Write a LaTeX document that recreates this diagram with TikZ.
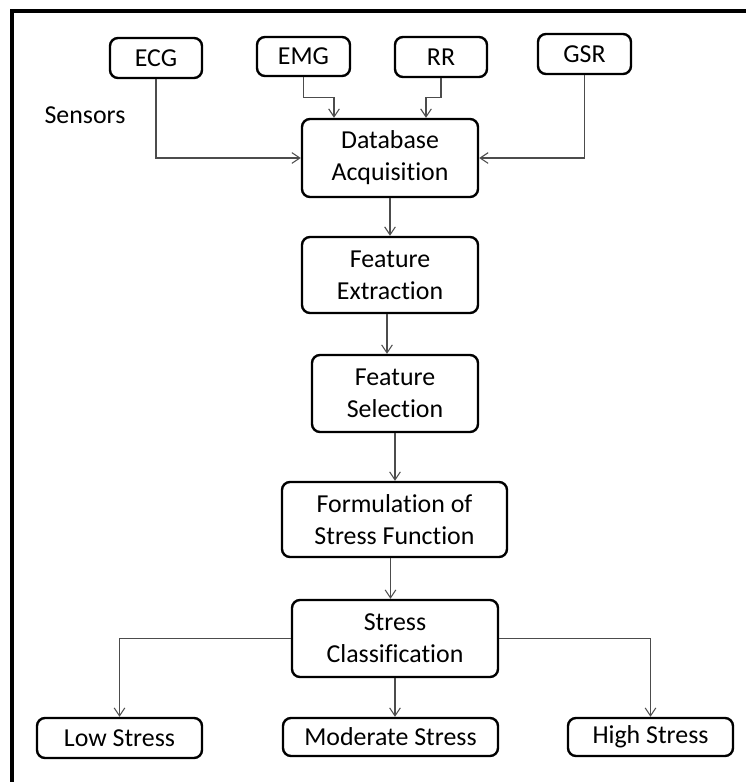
\documentclass[tikz,border=0pt]{standalone}
\usepackage{fontspec}
\setmainfont[Ligatures={NoCommon}]{Carlito}
\usetikzlibrary{arrows.meta,calc}
\tikzset{
  box/.style={draw=black, line width=1.8pt, rounded corners=6pt, align=center, inner sep=0pt,
    font=\fontsize{19.4pt}{24pt}\selectfont},
  arr/.style={draw=black!70, line width=0.8pt, -{Straight Barb[length=6pt,width=8pt]}},
  lbl/.style={font=\fontsize{19.4pt}{24pt}\selectfont, inner sep=0pt},
  frameline/.style={line width=2.3pt}
}
\begin{document}
\begin{tikzpicture}[x=0.75pt,y=-0.75pt]
\fill[white] (0,0) rectangle (746,782);
\useasboundingbox (0,0) rectangle (746,782);
\begin{scope}
\clip (0,0) rectangle (746,782);
\draw[frameline] (12,800) -- (12,11) -- (746,11);
\end{scope}
% sensors
\node[box, minimum width=69pt, minimum height=30pt] (ecg) at (156,58) {ECG};
\node[box, minimum width=69.75pt, minimum height=29.25pt] (emg) at (303.5,56.5) {EMG};
\node[box, minimum width=69pt, minimum height=30pt] (rr) at (441,57) {RR};
\node[box, minimum width=69.75pt, minimum height=30pt] (gsr) at (584.5,54) {GSR};
\node[lbl] (sensors) at (85,115) {Sensors};
% main chain
\node[box, minimum width=132pt, minimum height=58.5pt] (db) at (390,158) {Database\\Acquisition};
\node[box, minimum width=132pt, minimum height=57pt] (fe) at (390,275) {Feature\\Extraction};
\node[box, minimum width=124.5pt, minimum height=57.75pt] (fs) at (395,393.5) {Feature\\Selection};
\node[box, minimum width=168.75pt, minimum height=56.25pt] (fo) at (394.5,519.5) {Formulation of\\Stress Function};
\node[box, minimum width=154.5pt, minimum height=57.75pt] (sc) at (395,638.5) {Stress\\Classification};
% outputs
\node[box, minimum width=123.75pt, minimum height=30pt] (low) at (119.5,738) {Low Stress};
\node[box, minimum width=161.25pt, minimum height=28.5pt] (mod) at (390.5,737) {Moderate Stress};
\node[box, minimum width=123.75pt, minimum height=28.5pt] (high) at (650.5,737) {High Stress};
% connectors
\draw[arr] (ecg.south) |- (db.west);
\draw[arr] (emg.south) -- ++(0,20) -| ($(db.north)+(-56,0)$);
\draw[arr] (rr.south) -- ++(0,19) -| ($(db.north)+(36,0)$);
\draw[arr] (gsr.south) |- (db.east);
\draw[arr] (db.south) -- (fe.north);
\draw[arr] ($(fe.south)+(-3,0)$) -- ($(fe.south |- fs.north)+(-3,0)$);
\draw[arr] (fs.south) -- (fs.south |- fo.north);
\draw[arr] ($(fo.south)+(-4,0)$) -- ($(fo.south |- sc.north)+(-4,0)$);
\draw[arr] (sc.west) -| (low.north);
\draw[arr] (sc.south) -- (sc.south |- mod.north);
\draw[arr] (sc.east) -| (high.north);
\end{tikzpicture}
\end{document}
